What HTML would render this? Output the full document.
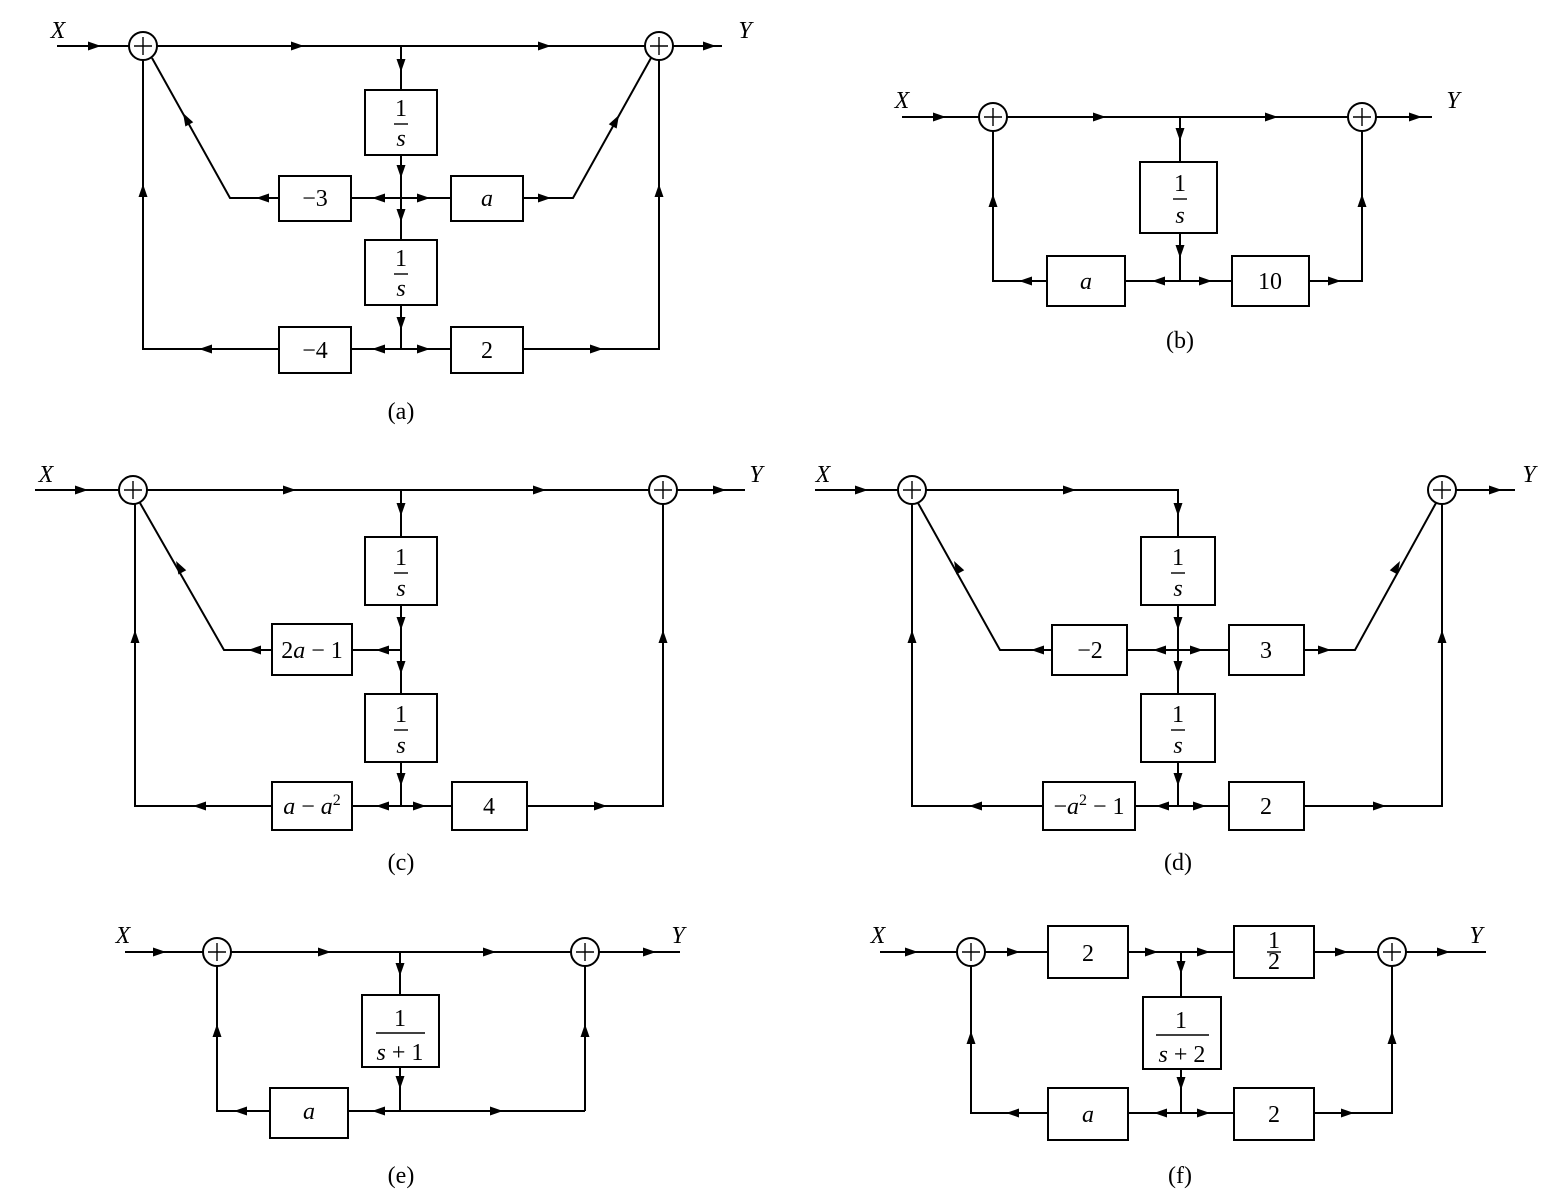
<!DOCTYPE html>
<html><head><meta charset="utf-8"><style>
html,body{margin:0;padding:0;background:#fff;}
svg{display:block;}
text{font-family:"Liberation Serif",serif;font-size:24px;fill:#000;}
.i{font-style:italic;}
</style></head><body>
<svg width="1565" height="1203" viewBox="0 0 1565 1203" xmlns="http://www.w3.org/2000/svg">
<defs><path id="ar" d="M0,0 L-13,-4.5 L-13,4.5 Z" fill="#000"/></defs>
<g stroke="#000" stroke-width="2" fill="none">
<!-- (a) -->
<line x1="57" y1="46" x2="129" y2="46"/><circle cx="143" cy="46" r="14"/>
<line x1="157" y1="46" x2="645" y2="46"/><circle cx="659" cy="46" r="14"/>
<line x1="673" y1="46" x2="722" y2="46"/>
<line x1="401" y1="46" x2="401" y2="90"/><rect x="365" y="90" width="72" height="65"/>
<line x1="401" y1="155" x2="401" y2="240"/><rect x="365" y="240" width="72" height="65"/>
<line x1="401" y1="305" x2="401" y2="349"/>
<rect x="279" y="176" width="72" height="45"/><rect x="451" y="176" width="72" height="45"/>
<line x1="351" y1="198" x2="451" y2="198"/>
<polyline points="279,198 230,198 152,58"/><polyline points="523,198 573,198 651,58"/>
<rect x="279" y="327" width="72" height="46"/><rect x="451" y="327" width="72" height="46"/>
<line x1="351" y1="349" x2="451" y2="349"/>
<polyline points="279,349 143,349 143,60"/><polyline points="523,349 659,349 659,60"/>
<!-- (b) -->
<line x1="902" y1="117" x2="979" y2="117"/><circle cx="993" cy="117" r="14"/>
<line x1="1007" y1="117" x2="1348" y2="117"/><circle cx="1362" cy="117" r="14"/>
<line x1="1376" y1="117" x2="1432" y2="117"/>
<line x1="1180" y1="117" x2="1180" y2="162"/><rect x="1140" y="162" width="77" height="71"/>
<line x1="1180" y1="233" x2="1180" y2="281"/>
<rect x="1047" y="256" width="78" height="50"/><rect x="1232" y="256" width="77" height="50"/>
<line x1="1125" y1="281" x2="1232" y2="281"/>
<polyline points="1047,281 993,281 993,131"/><polyline points="1309,281 1362,281 1362,131"/>
<!-- (c) -->
<line x1="35" y1="490" x2="119" y2="490"/><circle cx="133" cy="490" r="14"/>
<line x1="147" y1="490" x2="649" y2="490"/><circle cx="663" cy="490" r="14"/>
<line x1="677" y1="490" x2="745" y2="490"/>
<line x1="401" y1="490" x2="401" y2="537"/><rect x="365" y="537" width="72" height="68"/>
<line x1="401" y1="605" x2="401" y2="694"/><rect x="365" y="694" width="72" height="68"/>
<line x1="401" y1="762" x2="401" y2="806"/>
<rect x="272" y="624" width="80" height="51"/><line x1="352" y1="650" x2="401" y2="650"/>
<polyline points="272,650 224,650 140,503"/>
<rect x="272" y="782" width="80" height="48"/><rect x="452" y="782" width="75" height="48"/>
<line x1="352" y1="806" x2="452" y2="806"/>
<polyline points="272,806 135,806 135,504"/><polyline points="527,806 663,806 663,504"/>
<!-- (d) -->
<line x1="815" y1="490" x2="898" y2="490"/><circle cx="912" cy="490" r="14"/>
<polyline points="926,490 1178,490 1178,537"/><circle cx="1442" cy="490" r="14"/>
<line x1="1456" y1="490" x2="1515" y2="490"/>
<rect x="1141" y="537" width="74" height="68"/>
<line x1="1178" y1="605" x2="1178" y2="694"/><rect x="1141" y="694" width="74" height="68"/>
<line x1="1178" y1="762" x2="1178" y2="806"/>
<rect x="1052" y="625" width="75" height="50"/><rect x="1229" y="625" width="75" height="50"/>
<line x1="1127" y1="650" x2="1229" y2="650"/>
<polyline points="1052,650 1000,650 918,503"/><polyline points="1304,650 1355,650 1436,503"/>
<rect x="1043" y="782" width="92" height="48"/><rect x="1229" y="782" width="75" height="48"/>
<line x1="1135" y1="806" x2="1229" y2="806"/>
<polyline points="1043,806 912,806 912,504"/><polyline points="1304,806 1442,806 1442,504"/>
<!-- (e) -->
<line x1="125" y1="952" x2="203" y2="952"/><circle cx="217" cy="952" r="14"/>
<line x1="231" y1="952" x2="571" y2="952"/><circle cx="585" cy="952" r="14"/>
<line x1="599" y1="952" x2="680" y2="952"/>
<line x1="400" y1="952" x2="400" y2="995"/><rect x="362" y="995" width="77" height="72"/>
<line x1="400" y1="1067" x2="400" y2="1111"/>
<rect x="270" y="1088" width="78" height="50"/>
<line x1="348" y1="1111" x2="585" y2="1111"/>
<polyline points="270,1111 217,1111 217,966"/><line x1="585" y1="1111" x2="585" y2="966"/>
<!-- (f) -->
<line x1="880" y1="952" x2="957" y2="952"/><circle cx="971" cy="952" r="14"/>
<line x1="985" y1="952" x2="1048" y2="952"/><rect x="1048" y="926" width="80" height="52"/>
<line x1="1128" y1="952" x2="1234" y2="952"/><rect x="1234" y="926" width="80" height="52"/>
<line x1="1314" y1="952" x2="1378" y2="952"/><circle cx="1392" cy="952" r="14"/>
<line x1="1406" y1="952" x2="1486" y2="952"/>
<line x1="1181" y1="952" x2="1181" y2="997"/><rect x="1143" y="997" width="78" height="72"/>
<line x1="1181" y1="1069" x2="1181" y2="1113"/>
<rect x="1048" y="1088" width="80" height="52"/><rect x="1234" y="1088" width="80" height="52"/>
<line x1="1128" y1="1113" x2="1234" y2="1113"/>
<polyline points="1048,1113 971,1113 971,966"/><polyline points="1314,1113 1392,1113 1392,966"/>
</g>
<g stroke="#000" stroke-width="1.4">
<line x1="134" y1="46" x2="152" y2="46"/><line x1="143" y1="37" x2="143" y2="55"/>
<line x1="650" y1="46" x2="668" y2="46"/><line x1="659" y1="37" x2="659" y2="55"/>
<line x1="984" y1="117" x2="1002" y2="117"/><line x1="993" y1="108" x2="993" y2="126"/>
<line x1="1353" y1="117" x2="1371" y2="117"/><line x1="1362" y1="108" x2="1362" y2="126"/>
<line x1="124" y1="490" x2="142" y2="490"/><line x1="133" y1="481" x2="133" y2="499"/>
<line x1="654" y1="490" x2="672" y2="490"/><line x1="663" y1="481" x2="663" y2="499"/>
<line x1="903" y1="490" x2="921" y2="490"/><line x1="912" y1="481" x2="912" y2="499"/>
<line x1="1433" y1="490" x2="1451" y2="490"/><line x1="1442" y1="481" x2="1442" y2="499"/>
<line x1="208" y1="952" x2="226" y2="952"/><line x1="217" y1="943" x2="217" y2="961"/>
<line x1="576" y1="952" x2="594" y2="952"/><line x1="585" y1="943" x2="585" y2="961"/>
<line x1="962" y1="952" x2="980" y2="952"/><line x1="971" y1="943" x2="971" y2="961"/>
<line x1="1383" y1="952" x2="1401" y2="952"/><line x1="1392" y1="943" x2="1392" y2="961"/>
<!-- fraction bars -->
<line x1="394" y1="124" x2="408" y2="124"/><line x1="394" y1="274" x2="408" y2="274"/>
<line x1="1173" y1="199" x2="1187" y2="199"/>
<line x1="394" y1="573" x2="408" y2="573"/><line x1="394" y1="730" x2="408" y2="730"/>
<line x1="1171" y1="573" x2="1185" y2="573"/><line x1="1171" y1="730" x2="1185" y2="730"/>
<line x1="376" y1="1033" x2="425" y2="1033"/><line x1="1156" y1="1035" x2="1209" y2="1035"/>
<line x1="1267" y1="952" x2="1281" y2="952"/>
</g>
<!-- arrows -->
<g>
<use href="#ar" transform="translate(101,46)"/><use href="#ar" transform="translate(304,46)"/><use href="#ar" transform="translate(551,46)"/><use href="#ar" transform="translate(716,46)"/>
<use href="#ar" transform="translate(401,72) rotate(90)"/><use href="#ar" transform="translate(401,178) rotate(90)"/><use href="#ar" transform="translate(401,222) rotate(90)"/><use href="#ar" transform="translate(401,330) rotate(90)"/>
<use href="#ar" transform="translate(372,198) rotate(180)"/><use href="#ar" transform="translate(430,198)"/>
<use href="#ar" transform="translate(256,198) rotate(180)"/><use href="#ar" transform="translate(551,198)"/>
<use href="#ar" transform="translate(183,113) rotate(-119)"/><use href="#ar" transform="translate(619,115) rotate(-61)"/>
<use href="#ar" transform="translate(372,349) rotate(180)"/><use href="#ar" transform="translate(430,349)"/>
<use href="#ar" transform="translate(199,349) rotate(180)"/><use href="#ar" transform="translate(603,349)"/>
<use href="#ar" transform="translate(143,184) rotate(-90)"/><use href="#ar" transform="translate(659,184) rotate(-90)"/>

<use href="#ar" transform="translate(946,117)"/><use href="#ar" transform="translate(1106,117)"/><use href="#ar" transform="translate(1278,117)"/><use href="#ar" transform="translate(1422,117)"/>
<use href="#ar" transform="translate(1180,141) rotate(90)"/><use href="#ar" transform="translate(1180,258) rotate(90)"/>
<use href="#ar" transform="translate(1152,281) rotate(180)"/><use href="#ar" transform="translate(1212,281)"/>
<use href="#ar" transform="translate(1019,281) rotate(180)"/><use href="#ar" transform="translate(1341,281)"/>
<use href="#ar" transform="translate(993,194) rotate(-90)"/><use href="#ar" transform="translate(1362,194) rotate(-90)"/>

<use href="#ar" transform="translate(88,490)"/><use href="#ar" transform="translate(296,490)"/><use href="#ar" transform="translate(546,490)"/><use href="#ar" transform="translate(726,490)"/>
<use href="#ar" transform="translate(401,516) rotate(90)"/><use href="#ar" transform="translate(401,630) rotate(90)"/><use href="#ar" transform="translate(401,674) rotate(90)"/><use href="#ar" transform="translate(401,786) rotate(90)"/>
<use href="#ar" transform="translate(376,650) rotate(180)"/><use href="#ar" transform="translate(248,650) rotate(180)"/>
<use href="#ar" transform="translate(176,561) rotate(-119)"/>
<use href="#ar" transform="translate(376,806) rotate(180)"/><use href="#ar" transform="translate(426,806)"/>
<use href="#ar" transform="translate(193,806) rotate(180)"/><use href="#ar" transform="translate(607,806)"/>
<use href="#ar" transform="translate(135,630) rotate(-90)"/><use href="#ar" transform="translate(663,630) rotate(-90)"/>

<use href="#ar" transform="translate(868,490)"/><use href="#ar" transform="translate(1076,490)"/><use href="#ar" transform="translate(1502,490)"/>
<use href="#ar" transform="translate(1178,516) rotate(90)"/><use href="#ar" transform="translate(1178,630) rotate(90)"/><use href="#ar" transform="translate(1178,674) rotate(90)"/><use href="#ar" transform="translate(1178,786) rotate(90)"/>
<use href="#ar" transform="translate(1153,650) rotate(180)"/><use href="#ar" transform="translate(1203,650)"/>
<use href="#ar" transform="translate(1031,650) rotate(180)"/><use href="#ar" transform="translate(1331,650)"/>
<use href="#ar" transform="translate(954,561) rotate(-119)"/><use href="#ar" transform="translate(1400,561) rotate(-61)"/>
<use href="#ar" transform="translate(1156,806) rotate(180)"/><use href="#ar" transform="translate(1206,806)"/>
<use href="#ar" transform="translate(969,806) rotate(180)"/><use href="#ar" transform="translate(1386,806)"/>
<use href="#ar" transform="translate(912,630) rotate(-90)"/><use href="#ar" transform="translate(1442,630) rotate(-90)"/>

<use href="#ar" transform="translate(166,952)"/><use href="#ar" transform="translate(331,952)"/><use href="#ar" transform="translate(496,952)"/><use href="#ar" transform="translate(656,952)"/>
<use href="#ar" transform="translate(400,976) rotate(90)"/><use href="#ar" transform="translate(400,1089) rotate(90)"/>
<use href="#ar" transform="translate(372,1111) rotate(180)"/><use href="#ar" transform="translate(503,1111)"/>
<use href="#ar" transform="translate(234,1111) rotate(180)"/>
<use href="#ar" transform="translate(217,1024) rotate(-90)"/><use href="#ar" transform="translate(585,1024) rotate(-90)"/>

<use href="#ar" transform="translate(918,952)"/><use href="#ar" transform="translate(1020,952)"/><use href="#ar" transform="translate(1158,952)"/><use href="#ar" transform="translate(1210,952)"/><use href="#ar" transform="translate(1348,952)"/><use href="#ar" transform="translate(1450,952)"/>
<use href="#ar" transform="translate(1181,974) rotate(90)"/><use href="#ar" transform="translate(1181,1090) rotate(90)"/>
<use href="#ar" transform="translate(1154,1113) rotate(180)"/><use href="#ar" transform="translate(1210,1113)"/>
<use href="#ar" transform="translate(1006,1113) rotate(180)"/><use href="#ar" transform="translate(1354,1113)"/>
<use href="#ar" transform="translate(971,1031) rotate(-90)"/><use href="#ar" transform="translate(1392,1031) rotate(-90)"/>
</g>
<!-- text -->
<g text-anchor="middle">
<text x="58" y="38" class="i">X</text><text x="745" y="38" class="i">Y</text>
<text x="401" y="116">1</text><text x="401" y="146" class="i">s</text>
<text x="401" y="266">1</text><text x="401" y="296" class="i">s</text>
<text x="315" y="206">−3</text><text x="487" y="206" class="i">a</text>
<text x="315" y="358">−4</text><text x="487" y="358">2</text>
<text x="401" y="419" font-size="28">(a)</text>

<text x="902" y="108" class="i">X</text><text x="1453" y="108" class="i">Y</text>
<text x="1180" y="191">1</text><text x="1180" y="223" class="i">s</text>
<text x="1086" y="289" class="i">a</text><text x="1270" y="289">10</text>
<text x="1180" y="348" font-size="28">(b)</text>

<text x="46" y="482" class="i">X</text><text x="756" y="482" class="i">Y</text>
<text x="401" y="565">1</text><text x="401" y="596" class="i">s</text>
<text x="401" y="722">1</text><text x="401" y="753" class="i">s</text>
<text x="312" y="658">2<tspan class="i">a</tspan> − 1</text>
<text x="312" y="814"><tspan class="i">a</tspan> − <tspan class="i">a</tspan><tspan font-size="16" dy="-9">2</tspan></text>
<text x="489" y="814">4</text>
<text x="401" y="870" font-size="28">(c)</text>

<text x="823" y="482" class="i">X</text><text x="1529" y="482" class="i">Y</text>
<text x="1178" y="565">1</text><text x="1178" y="596" class="i">s</text>
<text x="1178" y="722">1</text><text x="1178" y="753" class="i">s</text>
<text x="1090" y="658">−2</text><text x="1266" y="658">3</text>
<text x="1089" y="814">−<tspan class="i">a</tspan><tspan font-size="16" dy="-9">2</tspan><tspan dy="9"> − 1</tspan></text>
<text x="1266" y="814">2</text>
<text x="1178" y="870" font-size="28">(d)</text>

<text x="123" y="943" class="i">X</text><text x="678" y="943" class="i">Y</text>
<text x="400" y="1026">1</text><text x="400" y="1060"><tspan class="i">s</tspan> + 1</text>
<text x="309" y="1119" class="i">a</text>
<text x="401" y="1183" font-size="28">(e)</text>

<text x="878" y="943" class="i">X</text><text x="1476" y="943" class="i">Y</text>
<text x="1088" y="961">2</text>
<text x="1274" y="948" font-size="17">1</text><text x="1274" y="969" font-size="17">2</text>
<text x="1181" y="1028">1</text><text x="1182" y="1062"><tspan class="i">s</tspan> + 2</text>
<text x="1088" y="1122" class="i">a</text><text x="1274" y="1122">2</text>
<text x="1180" y="1183" font-size="28">(f)</text>
</g>
</svg>
</body></html>
